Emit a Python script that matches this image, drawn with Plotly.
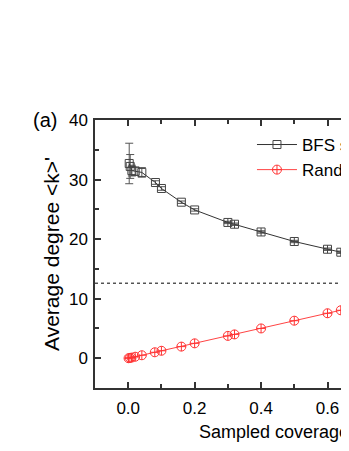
import plotly.graph_objects as go

# BFS sampling
bfs_c = [0.003, 0.006, 0.011, 0.021, 0.041, 0.082, 0.1, 0.16, 0.2, 0.3, 0.32, 0.4, 0.5, 0.6, 0.64, 0.7, 0.8, 0.9, 1.0]
bfs_k = [32.7, 32.2, 31.5, 31.4, 31.2, 29.5, 28.5, 26.2, 24.9, 22.8, 22.5, 21.2, 19.6, 18.3, 17.8, 17.2, 15.8, 14.4, 12.6]
bfs_err = [3.4, 2.0, 0.9, 0.7, 0.8, 0.3, 0.3, 0.2, 0.2, 0.2, 0.2, 0.2, 0.2, 0.2, 0.2, 0.2, 0.2, 0.2, 0.0]

# Random sampling
rnd_c = [0.001, 0.005, 0.01, 0.021, 0.041, 0.08, 0.1, 0.16, 0.2, 0.3, 0.32, 0.4, 0.5, 0.6, 0.64, 0.7, 0.8, 0.9, 1.0]
rnd_k = [0.0, 0.05, 0.1, 0.25, 0.5, 1.0, 1.25, 1.95, 2.5, 3.75, 4.0, 5.0, 6.3, 7.55, 8.05, 8.8, 10.1, 11.3, 12.6]

k_mean = 12.6

font = "Liberation Sans, Arial, sans-serif"

bfs_symbols = ["square-open" if c < 0.25 else "square-cross-open" for c in bfs_c]

fig = go.Figure()
fig.add_trace(go.Scatter(
    x=[-0.1, 1.1], y=[k_mean, k_mean], mode="lines",
    line=dict(color="black", width=1, dash="dot"), showlegend=False, hoverinfo="skip"))
fig.add_trace(go.Scatter(
    x=bfs_c, y=bfs_k, name="BFS sampling", mode="lines+markers",
    line=dict(color="#333333", width=1),
    marker=dict(symbol=bfs_symbols, size=8, color="#444444", line=dict(width=1)),
    error_y=dict(type="data", array=bfs_err, color="#555555", thickness=1, width=4)))
fig.add_trace(go.Scatter(
    x=rnd_c, y=rnd_k, name="Random sampling", mode="lines+markers",
    line=dict(color="#ff4444", width=1),
    marker=dict(symbol="circle-cross-open", size=9, color="#ff3333", line=dict(width=1))))

axis_common = dict(
    showline=True, linecolor="#333333", linewidth=1.5, mirror="ticks",
    ticks="inside", ticklen=6, tickcolor="#333333", tickwidth=1.5,
    showgrid=False, zeroline=False,
    tickfont=dict(family=font, size=17, color="black"),
)

fig.update_xaxes(
    range=[-0.1, 1.02], tickvals=[0.0, 0.2, 0.4, 0.6, 0.8, 1.0],
    ticktext=["0.0", "0.2", "0.4", "0.6", "0.8", "1.0"],
    minor=dict(tickvals=[0.1, 0.3, 0.5, 0.7, 0.9], ticks="inside", ticklen=4, tickcolor="#333333"),
    ticklabelstandoff=4,
    title=dict(text="Sampled coverage c", font=dict(family=font, size=18, color="black"), standoff=8),
    **axis_common)
fig.update_yaxes(
    range=[-5, 40], tickvals=[0, 10, 20, 30, 40],
    minor=dict(tickvals=[-5, 5, 15, 25, 35], ticks="inside", ticklen=4, tickcolor="#333333"),
    ticklabelstandoff=2,
    title=dict(text="Average degree <k>'", font=dict(family=font, size=21, color="black"), standoff=4),
    **axis_common)

fig.add_annotation(text="(a)", xref="paper", yref="paper", x=-0.135, y=1.0,
                   xanchor="center", yanchor="middle", showarrow=False,
                   font=dict(family=font, size=20, color="black"))

fig.update_layout(
    width=479, height=443,
    margin=dict(l=87, r=20, t=112, b=63),
    paper_bgcolor="white", plot_bgcolor="white",
    legend=dict(x=0.422, y=0.974, xanchor="left", yanchor="top",
                font=dict(family=font, size=17, color="black"),
                bgcolor="rgba(0,0,0,0)", itemwidth=40, tracegroupgap=0),
)

fig.write_html("out.html")
